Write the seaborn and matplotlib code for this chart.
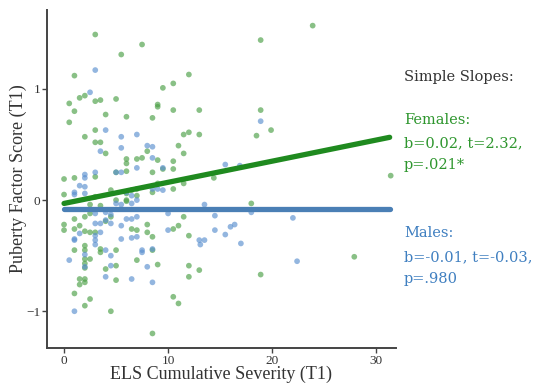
import matplotlib
matplotlib.use("Agg")
import matplotlib.pyplot as plt
import seaborn as sns
import pandas as pd

# ---- data ----
female_x = [3.0, 7.5, 5.5, 1.0, 12.0, 10.5, 9.5, 0.5, 1.5, 2.0, 3.0, 3.5, 5.0, 9.0, 9.0, 1.0, 10.5, 13.0,
            4.0, 6.0, 8.5, 0.5, 3.0, 2.0, 3.0, 3.5, 4.0, 12.0, 11.5, 13.0, 11.0, 11.5, 8.0, 7.5, 7.0, 6.0,
            6.0, 6.0, 9.0, 10.5, 9.5, 10.5, 8.5, 5.0, 1.0, 0.0, 3.0, 14.4, 23.9, 18.9, 18.9, 19.9, 18.5,
            31.4, 18.0, 18.9, 27.9, 0.0, 3.0, 4.5, 6.5, 7.0, 7.0, 6.0, 9.0, 10.5, 11.5, 2.5, 3.5, 2.5,
            4.5, 4.0, 2.0, 0.0, 0.0, 1.0, 1.0, 1.5, 2.0, 2.5, 3.0, 6.5, 7.0, 8.0, 8.0, 8.5, 10.5, 11.0,
            11.5, 12.0, 1.0, 2.0, 2.0, 3.5, 3.5, 2.0, 2.5, 2.0, 2.0, 4.0, 5.0, 5.0, 5.0, 7.0, 9.0, 12.0,
            13.0, 12.0, 1.5, 2.0, 1.5, 2.0, 1.0, 2.5, 2.0, 4.5, 10.5, 11.0, 8.5, 8.5, 5.0, 6.0, 6.0, 8.5]
female_y = [1.49, 1.40, 1.31, 1.12, 1.13, 1.05, 1.01, 0.87, 0.92, 0.94, 0.89, 0.90, 0.91, 0.86, 0.84, 0.80,
            0.81, 0.81, 0.77, 0.75, 0.74, 0.70, 0.63, 0.57, 0.52, 0.52, 0.42, 0.61, 0.59, 0.59, 0.49, 0.42,
            0.44, 0.38, 0.37, 0.37, 0.33, 0.26, 0.36, 0.35, 0.28, 0.28, 0.25, 0.25, 0.20, 0.19, 0.21, 0.20,
            1.57, 1.44, 0.81, 0.63, 0.58, 0.22, -0.03, -0.67, -0.51, 0.05, 0.03, 0.09, 0.09, 0.10, 0.04,
            -0.01, 0.15, 0.10, 0.15, -0.04, -0.05, -0.12, -0.15, -0.19, -0.15, -0.22, -0.27, -0.17, -0.26,
            -0.23, -0.28, -0.29, -0.29, -0.26, -0.27, -0.22, -0.29, -0.33, -0.26, -0.23, -0.15, -0.32,
            -0.45, -0.41, -0.45, -0.44, -0.47, -0.53, -0.53, -0.57, -0.61, -0.62, -0.45, -0.59, -0.72,
            -0.54, -0.58, -0.59, -0.63, -0.69, -0.71, -0.71, -0.76, -0.74, -0.84, -0.89, -0.95, -1.00,
            -0.87, -0.93, -1.20, 0.07, 0.00, 0.00, 0.06, -0.45]

male_x = [3.0, 2.5, 4.0, 5.5, 7.0, 5.5, 3.5, 8.0, 8.5, 8.5, 7.0, 9.5, 3.0, 2.0, 2.0, 5.0, 5.5, 18.9, 15.5,
          16.9, 13.5, 14.5, 18.0, 22.0, 14.5, 16.0, 16.4, 15.5, 13.5, 13.1, 17.0, 22.4, 1.0, 1.0, 2.0, 1.5,
          2.0, 5.0, 5.5, 6.0, 6.5, 6.5, 7.0, 8.5, 9.0, 9.5, 3.0, 4.0, 4.5, 3.0, 3.5, 4.0, 4.5, 5.5, 6.0,
          6.5, 7.0, 10.0, 10.0, 1.0, 1.0, 1.5, 3.0, 3.0, 3.0, 5.5, 6.5, 7.0, 4.0, 4.5, 7.5, 7.5, 8.5, 2.0,
          0.5, 2.0, 4.5, 8.0, 4.0, 6.5, 8.5, 1.0, 13.0, 3.5]
male_y = [1.17, 0.97, 0.63, 0.57, 0.59, 0.47, 0.44, 0.49, 0.48, 0.38, 0.29, 0.29, 0.25, 0.23, 0.20, 0.25,
          0.25, 0.71, 0.32, 0.31, -0.04, -0.14, -0.11, -0.16, -0.27, -0.24, -0.22, -0.31, -0.36, -0.40,
          -0.39, -0.55, 0.07, 0.05, 0.06, 0.13, 0.12, -0.03, -0.04, 0.07, 0.04, -0.03, 0.00, 0.10, 0.10,
          0.09, -0.12, -0.11, -0.13, -0.21, -0.21, -0.18, -0.21, -0.23, -0.17, -0.17, -0.15, -0.12, -0.27,
          -0.35, -0.36, -0.30, -0.36, -0.40, -0.32, -0.35, -0.34, -0.33, -0.45, -0.50, -0.45, -0.47, -0.44,
          -0.49, -0.54, -0.60, -0.59, -0.60, -0.69, -0.71, -0.74, -1.00, -0.36, -0.29]

# simple-slope fitted lines (endpoints)
fit_x = [0.0, 31.3]
female_fit = [-0.03, 0.565]
male_fit = [-0.08, -0.08]

x_ticks = [0, 10, 20, 30]
y_ticks = [-1, 0, 1]

# ---- plotting ----
sns.set_theme(style="white")
plt.rcParams["font.family"] = ["Liberation Serif", "DejaVu Serif"]

fig = plt.figure(figsize=(5.35, 3.87), dpi=100)
ax = fig.add_axes([0.088, 0.101, 0.652, 0.873])

pts = pd.DataFrame({
    "x": female_x + male_x,
    "y": female_y + male_y,
    "sex": ["Female"] * len(female_x) + ["Male"] * len(male_x),
})
sns.scatterplot(data=pts, x="x", y="y", hue="sex",
                palette={"Female": "#4a9f45", "Male": "#5a8fcf"},
                s=17, alpha=0.65, linewidth=0, legend=False, ax=ax)

sns.lineplot(x=fit_x, y=female_fit, color="#1f8a1f", linewidth=3.8, ax=ax)
sns.lineplot(x=fit_x, y=male_fit, color="#4a7fb5", linewidth=3.8, ax=ax)

ax.set_xlim(-1.63, 31.9)
ax.set_ylim(-1.33, 1.71)
ax.set_xticks(x_ticks)
ax.set_yticks(y_ticks)
ax.tick_params(axis="both", which="both", length=3.5, width=1, color="#444444", pad=1.5,
               labelsize=9.5, labelcolor="#333333", direction="out", bottom=True, left=True)
for side in ["top", "right"]:
    ax.spines[side].set_visible(False)
for side in ["left", "bottom"]:
    ax.spines[side].set_color("#444444")
    ax.spines[side].set_linewidth(1.4)

ax.set_xlabel("ELS Cumulative Severity (T1)", fontsize=13, color="#333333", labelpad=-1)
ax.set_ylabel("Puberty Factor Score (T1)", fontsize=13, color="#333333", labelpad=-1)

# annotation
ann_font = ["DejaVu Serif"]
fig.text(0.755, 0.800, "Simple Slopes:", fontsize=10.5, color="#333333", family=ann_font, va="center")
green_txt = "#2e962e"
blue_txt = "#3f7fc0"
fig.text(0.755, 0.690, "Females:", fontsize=10.5, color=green_txt, family=ann_font, va="center")
fig.text(0.755, 0.631, "b=0.02, t=2.32,", fontsize=10.5, color=green_txt, family=ann_font, va="center")
fig.text(0.755, 0.574, "p=.021*", fontsize=10.5, color=green_txt, family=ann_font, va="center")
fig.text(0.755, 0.398, "Males:", fontsize=10.5, color=blue_txt, family=ann_font, va="center")
fig.text(0.755, 0.336, "b=-0.01, t=-0.03,", fontsize=10.5, color=blue_txt, family=ann_font, va="center")
fig.text(0.755, 0.279, "p=.980", fontsize=10.5, color=blue_txt, family=ann_font, va="center")

fig.savefig("out.png", dpi=100)
